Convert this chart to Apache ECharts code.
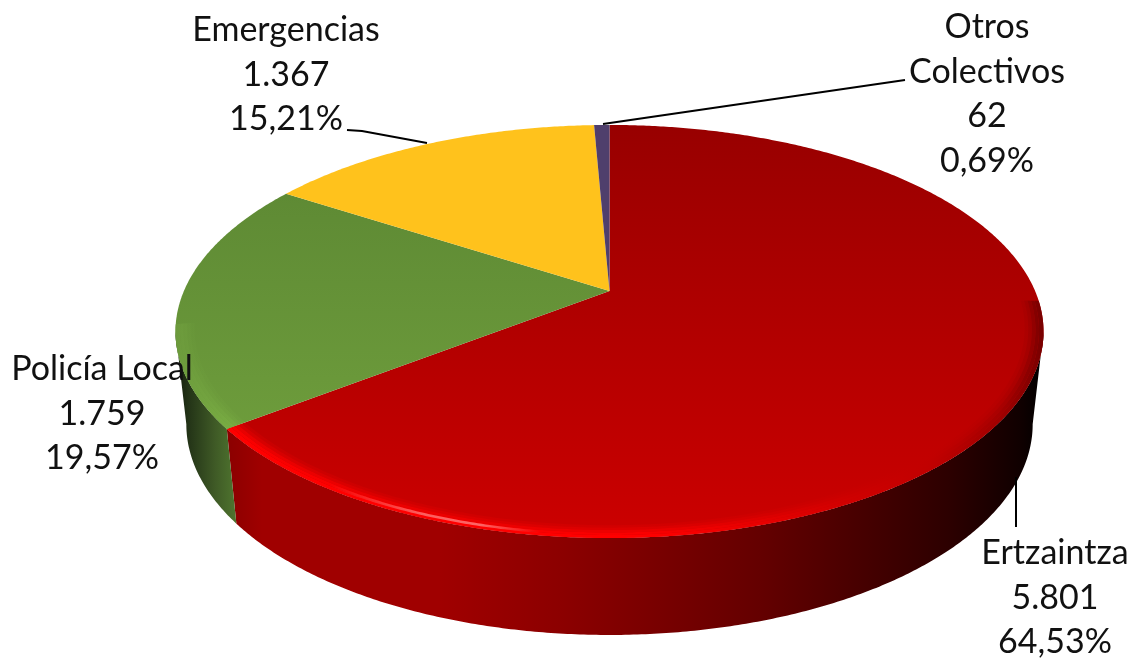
<!DOCTYPE html>
<html><head><meta charset="utf-8">
<style>html,body{margin:0;padding:0;background:#fff}#c{width:1136px;height:659px}</style>
<script src="https://cdn.jsdelivr.net/npm/echarts@6/dist/echarts.min.js"></script>
</head><body><div id="c"></div>
<script>
var categories = ['Ertzaintza', 'Policía Local', 'Emergencias', 'Otros Colectivos'];
var values = [5801, 1759, 1367, 62];
var valueLabels = ['5.801', '1.759', '1.367', '62'];
var percentLabels = ['64,53%', '19,57%', '15,21%', '0,69%'];
var nameLines = [['Ertzaintza'], ['Policía Local'], ['Emergencias'], ['Otros', 'Colectivos']];

// layout of the perspective pie
var CX = 609.5, CY = 291, A = 425.6, B = 198.6, K = 0.196;
var LOW_S = 0.975, LOW_T = 1.02, LOW_D = 92;
var labelCenters = [[1055, 553], [102, 369], [286, 30], [987, 27]];
var leaders = [
  [[1016, 477], [1016, 527]],
  null,
  [[347, 130], [362, 131], [427, 143]],
  [[603, 124], [905, 80]]
];
var LINE_H = 44.6;
var FONT = 'Lato, Carlito, "Open Sans", sans-serif';

var total = values.reduce(function (s, v) { return s + v; }, 0);
var bounds = [0];
values.forEach(function (v) { bounds.push(bounds[bounds.length - 1] + v / total * Math.PI * 2); });

function project(t, r, low) {
  var x = r * Math.sin(t), y = -r * Math.cos(t), w = 1 - K * y;
  var X = A * x / w, Y = B * y / w;
  return low ? [CX + LOW_S * X, CY + LOW_D + LOW_T * Y] : [CX + X, CY + Y];
}
function arc(t0, t1, r, low) {
  var n = Math.max(2, Math.ceil(Math.abs(t1 - t0) / 0.008)), pts = [];
  for (var i = 0; i <= n; i++) pts.push(project(t0 + (t1 - t0) * i / n, r, low));
  return pts;
}
function grad(x0, y0, x1, y1, stops) {
  return new echarts.graphic.LinearGradient(x0, y0, x1, y1,
    stops.map(function (s) { return { offset: s[0], color: s[1] }; }), true);
}
function xGrad(stops) { return grad(176, 0, 1044, 0, stops.map(function (s) { return [(s[0] - 176) / 868, s[1]]; })); }
function yGrad(c0, c1) { return grad(0, 125, 0, 538, [[0, c0], [1, c1]]); }

var topFill = [
  yGrad('#980000', '#cc0000'),
  yGrad('#5a8532', '#74a43f'),
  yGrad('#ffc21c', '#ffc21c'),
  yGrad('#4f3f6c', '#4f3f6c')
];
var wallFill = [
  xGrad([[229, '#8c0000'], [262, '#a00000'], [440, '#a00000'], [560, '#8c0000'], [660, '#780000'], [760, '#640000'], [850, '#4a0000'], [950, '#2c0000'], [1020, '#100000'], [1044, '#000000']]),
  xGrad([[176, '#141e0c'], [190, '#253618'], [215, '#3f5a26'], [240, '#527a30']]),
  '#c09010', '#3a2e52'
];
var rimFill = [
  xGrad([[229, '#ff0000'], [640, '#ff0000'], [760, '#e80000'], [850, '#d00000'], [930, '#c00000'], [1000, '#a00000'], [1044, '#780000']]),
  xGrad([[176, '#6c9a3c'], [240, '#7bb044']])
];
var highlightFill = xGrad([[330, 'rgba(255,170,170,0)'], [420, 'rgba(255,170,170,0.55)'], [480, 'rgba(255,170,170,0.6)'], [540, 'rgba(255,170,170,0)']]);
var VIS0 = Math.acos(-K), VIS1 = Math.PI * 2 - VIS0;
var RIM_BANDS = [[0.958, 0.966, 0.15], [0.966, 0.974, 0.35], [0.974, 0.982, 0.65], [0.982, 0.99, 0.9], [0.99, 1, 1]];

function wallItem(params, api) {
  var i = params.dataIndex;
  var t0 = Math.max(bounds[i], VIS0), t1 = Math.min(bounds[i + 1], VIS1);
  if (t1 <= t0) return { type: 'group', children: [] };
  var pts = arc(t0, t1, 1, false).concat(arc(t1, t0, 1, true));
  return { type: 'polygon', shape: { points: pts }, style: { fill: wallFill[i] } };
}
function topItem(params, api) {
  var i = params.dataIndex, t0 = bounds[i], t1 = bounds[i + 1];
  var kids = [{ type: 'polygon', shape: { points: [[CX, CY]].concat(arc(t0, t1, 1, false)) }, style: { fill: topFill[i] } }];
  if (rimFill[i]) {
    var a0 = i === 0 ? 1.62 : t0, a1 = i === 1 ? 4.55 : t1;
    RIM_BANDS.forEach(function (b) {
      kids.push({
        type: 'polygon',
        shape: { points: arc(a0, a1, b[0], false).concat(arc(a1, a0, b[1], false)) },
        style: { fill: rimFill[i], opacity: b[2] }
      });
    });
    if (i === 0) kids.push({
      type: 'polygon',
      shape: { points: arc(a0, a1, 0.984, false).concat(arc(a1, a0, 0.992, false)) },
      style: { fill: highlightFill }
    });
  }
  return { type: 'group', children: kids };
}
function labelItem(params, api) {
  var i = params.dataIndex, c = labelCenters[i];
  var lines = nameLines[i].concat([valueLabels[i], percentLabels[i]]);
  var kids = lines.map(function (s, j) {
    return { type: 'text', style: { x: c[0], y: c[1] + j * LINE_H, text: s, align: 'center', verticalAlign: 'middle', font: '34px ' + FONT, fill: '#111111' } };
  });
  if (leaders[i]) kids.unshift({ type: 'polyline', shape: { points: leaders[i] }, style: { stroke: '#000', lineWidth: 2, fill: null } });
  return { type: 'group', children: kids };
}
var rows = categories.map(function (n, i) { return { name: n, value: values[i] }; });
var chart = echarts.init(document.getElementById('c'));
chart.setOption({
  animation: false,
  backgroundColor: '#ffffff',
  series: [
    { type: 'custom', coordinateSystem: 'none', silent: true, z: 1, data: rows, renderItem: wallItem },
    { type: 'custom', coordinateSystem: 'none', silent: true, z: 2, data: rows, renderItem: topItem },
    { type: 'custom', coordinateSystem: 'none', silent: true, z: 3, data: rows, renderItem: labelItem }
  ]
});
</script></body></html>
